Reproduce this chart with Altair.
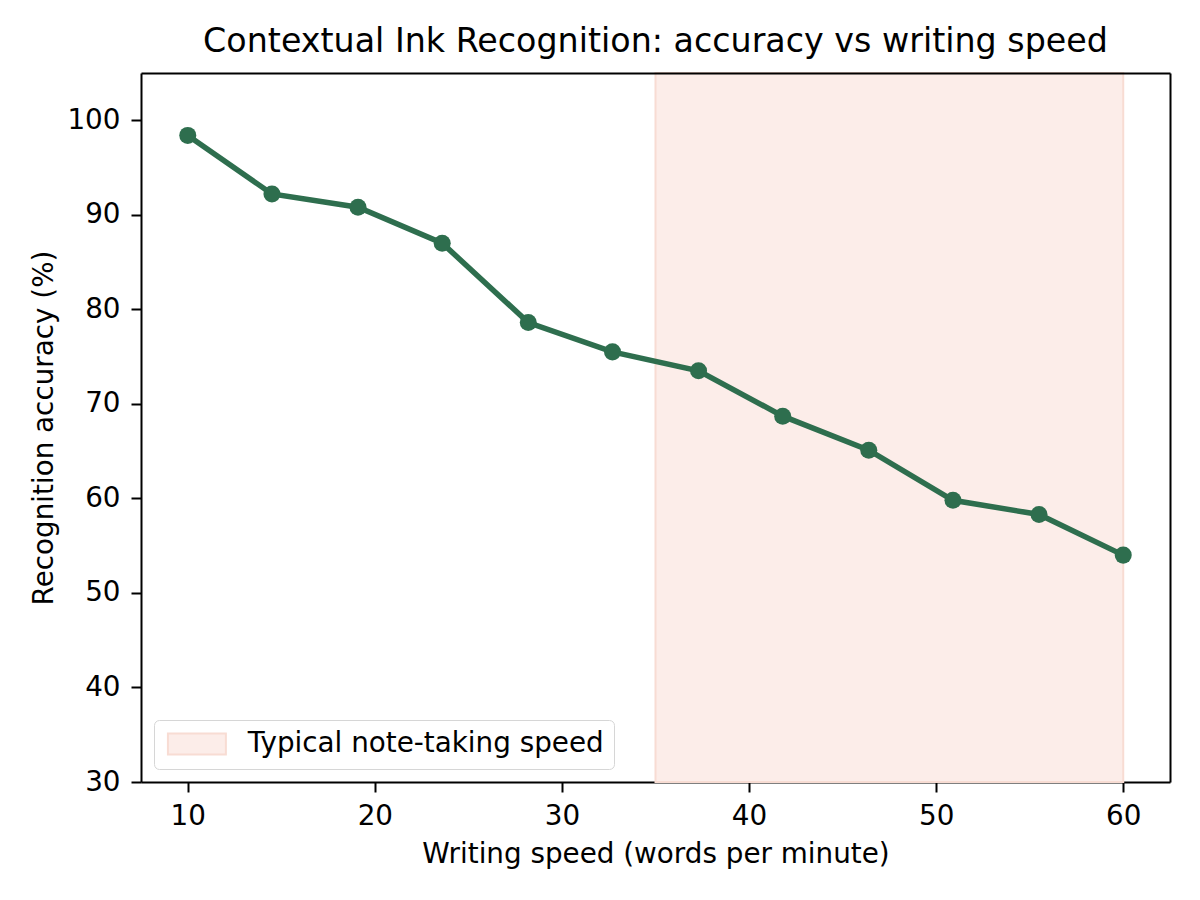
import altair as alt
import pandas as pd

# writing speed (wpm) and recognition accuracy (%)
speed = [10.0, 14.5, 19.1, 23.6, 28.2, 32.7, 37.3, 41.8, 46.4, 50.9, 55.5, 60.0]
accuracy = [98.4, 92.2, 90.8, 87.0, 78.6, 75.5, 73.5, 68.7, 65.1, 59.8, 58.3, 54.0]

band_label = ["Typical note-taking speed"]
band_start = [35]
band_end = [60]

x_ticks = [10, 20, 30, 40, 50, 60]
y_ticks = [30, 40, 50, 60, 70, 80, 90, 100]

FONT = "DejaVu Sans"
GREEN = "#2e6e4e"

df = pd.DataFrame({"speed": speed, "accuracy": accuracy})
band_df = pd.DataFrame({"label": band_label, "start": band_start, "end": band_end})

xscale = alt.Scale(domain=[7.5, 62.5], nice=False, zero=False)
yscale = alt.Scale(domain=[30, 105], nice=False, zero=False)

frame_axis = dict(labels=False, ticks=False, title=None, grid=False,
                  domainColor="black", domainWidth=2, zindex=1)

band = alt.Chart(band_df).mark_rect(stroke="#f8dcd3", strokeWidth=2).encode(
    x=alt.X("start:Q", scale=xscale, axis=alt.Axis(orient="top", **frame_axis)),
    x2="end:Q",
    color=alt.Color(
        "label:N",
        scale=alt.Scale(domain=band_label, range=["#fcede9"]),
        legend=alt.Legend(
            title=None,
            orient="bottom-left",
            offset=13,
            padding=10,
            fillColor="white",
            strokeColor="#d6d6d6",
            cornerRadius=5,
            symbolType="M-2.76,-1H2.76V1H-2.76Z",
            symbolSize=441,
            symbolStrokeColor="#f8dcd3",
            symbolStrokeWidth=2,
            symbolOffset=19,
            labelOffset=37,
            labelLimit=0,
            labelFontSize=27.8,
            labelFont=FONT,
            labelColor="black",
        ),
    ),
)

line = alt.Chart(df).mark_line(color=GREEN, strokeWidth=5.5).encode(
    x=alt.X("speed:Q", scale=xscale,
            axis=alt.Axis(values=x_ticks, title="Writing speed (words per minute)",
                          titleY=80, titleBaseline="alphabetic", labelPadding=10)),
    y=alt.Y("accuracy:Q", scale=yscale,
            axis=alt.Axis(values=y_ticks, title="Recognition accuracy (%)",
                          titleX=-89, titleBaseline="alphabetic", labelPadding=11)),
)

points = alt.Chart(df).mark_circle(color=GREEN, size=290, opacity=1).encode(
    x=alt.X("speed:Q", scale=xscale, axis=None),
    y=alt.Y("accuracy:Q", scale=yscale, axis=alt.Axis(orient="right", **frame_axis)),
)

chart = (
    alt.layer(band, line, points)
    .resolve_axis(x="independent", y="independent")
    .properties(
        width=1029,
        height=709,
        autosize=alt.AutoSizeParams(type="none"),
        padding={"left": 133, "top": 65, "right": 22, "bottom": 110},
        title=alt.Title(
            "Contextual Ink Recognition: accuracy vs writing speed",
            font=FONT, fontSize=33.3, fontWeight="normal", color="black",
            frame="group", anchor="middle", baseline="alphabetic", offset=-13,
        ),
    )
    .configure_view(stroke=None)
    .configure_axis(
        labelFont=FONT, labelFontSize=27.8, labelColor="black",
        titleFont=FONT, titleFontSize=27.8, titleColor="black", titleFontWeight="normal",
        domainColor="black", domainWidth=2, tickColor="black", tickWidth=2,
        tickSize=10, grid=False, zindex=1,
    )
)

chart.save("out.html", embed_options={"renderer": "svg", "actions": False})
